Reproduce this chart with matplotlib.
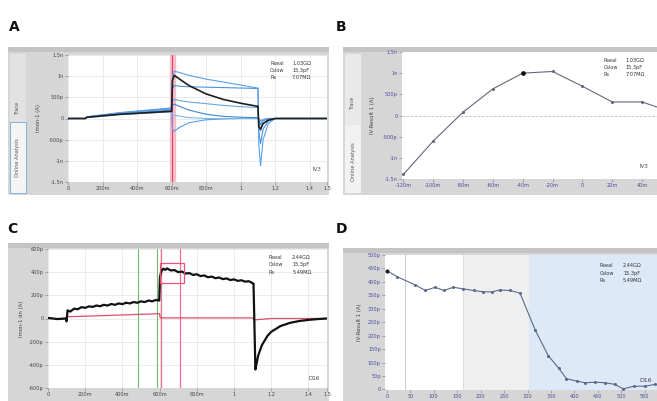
import matplotlib
matplotlib.use("Agg")
import matplotlib.pyplot as plt
from matplotlib.patches import Rectangle

W, H = 657, 401

# ---------------- data ----------------
# Panel A: current traces (time in s, current in nA)
t_A = [0, 0.1, 0.11, 0.3, 0.6, 0.605, 0.615, 0.65, 0.7, 0.8, 0.9, 1.0, 1.095, 1.1, 1.105, 1.115, 1.13, 1.16, 1.2, 1.5]
black_A = [0, 0, 0.03, 0.1, 0.17, 0.9, 1.02, 0.92, 0.78, 0.58, 0.45, 0.36, 0.29, 0.29, -0.2, -0.25, -0.12, -0.04, 0, 0]
blue1_A = [0, 0, 0.04, 0.14, 0.25, 1.0, 1.12, 1.08, 1.02, 0.93, 0.86, 0.79, 0.72, 0.72, -0.6, -1.12, -0.5, -0.12, 0, 0]
blue2_A = [0, 0, 0.04, 0.13, 0.24, 0.7, 0.78, 0.76, 0.75, 0.74, 0.73, 0.72, 0.71, 0.71, -0.3, -0.6, -0.25, -0.06, 0, 0]
blue3_A = [0, 0, 0.03, 0.12, 0.22, 0.4, 0.45, 0.42, 0.39, 0.35, 0.31, 0.28, 0.26, 0.26, -0.1, -0.3, -0.12, -0.03, 0, 0]
blue4_A = [0, 0, 0.03, 0.11, 0.2, 0.3, 0.34, 0.28, 0.2, 0.1, 0.05, 0.03, 0.02, 0.02, -0.05, -0.15, -0.05, -0.01, 0, 0]
blue5_A = [0, 0, 0.03, 0.1, 0.18, 0.05, 0.08, 0.05, 0.02, 0.0, 0, 0, 0, 0, -0.02, -0.08, -0.03, 0, 0, 0]
blue6_A = [0, 0, 0.02, 0.09, 0.16, -0.25, -0.3, -0.2, -0.1, -0.03, -0.01, 0, 0, 0, 0, -0.05, -0.02, 0, 0, 0]
cursor_A = 0.605

# Panel B: IV curve (mV, nA)
v_B = [-120, -100, -80, -60, -40, -20, 0, 20, 40, 60]
i_B = [-1.39, -0.6, 0.08, 0.63, 1.0, 1.04, 0.69, 0.32, 0.32, 0.08]
sel_B = -40

# Panel C: current traces (s, pA)
t_C = [0, 0.05, 0.095, 0.1, 0.105, 0.12, 0.14, 0.16, 0.18, 0.2,
       0.22, 0.24, 0.26, 0.28, 0.3, 0.32, 0.34, 0.36, 0.38, 0.4,
       0.42, 0.44, 0.46, 0.48, 0.5, 0.52, 0.54, 0.56, 0.58, 0.598,
       0.602, 0.61, 0.62, 0.63, 0.64, 0.66, 0.68, 0.7, 0.72, 0.74,
       0.76, 0.78, 0.8, 0.82, 0.84, 0.86, 0.88, 0.9, 0.92, 0.94,
       0.96, 0.98, 1.0, 1.02, 1.04, 1.06, 1.08, 1.1, 1.105, 1.115,
       1.12, 1.13, 1.15, 1.18, 1.2, 1.25, 1.3, 1.35, 1.4, 1.45, 1.5]
black_C = [5, -5, 0, -25, 70, 60, 85, 80, 98, 92,
           105, 100, 112, 106, 118, 112, 125, 118, 130, 124,
           136, 130, 142, 136, 148, 142, 155, 148, 160, 155,
           360, 410, 430, 420, 432, 415, 418, 400, 405, 388,
           392, 376, 382, 366, 372, 356, 362, 348, 354, 340,
           346, 332, 338, 325, 330, 318, 322, 305, 300, -440,
           -400, -320, -230, -150, -115, -65, -38, -22, -12, -5, 0]
t_Cr = [0, 0.1, 0.105, 0.3, 0.6, 0.603, 1.1, 1.11, 1.2, 1.5]
red_C = [0, 0, 15, 25, 42, 5, 5, -12, 0, 0]
green_C = [0.486, 0.585]
pink_C = [0.609, 0.712]
box_C = [0.6, 0.73, 304, 478]

# Panel D: time course (s, pA)
t_D = [0, 21, 60, 82, 103, 121, 142, 163, 185, 206, 224, 241, 263, 284,
       316, 344, 366, 383, 405, 423, 444, 465, 486, 504, 526, 550, 572]
i_D = [442, 420, 389, 368, 380, 368, 380, 374, 368, 363, 363, 370, 368, 358,
       222, 126, 80, 40, 31, 25, 27, 25, 19, 2, 12, 12, 19]
bounds_D = [39, 163, 302]

info_AB = ["Rseal", "Cslow", "Rs"], ["1.03GΩ", "15.3pF", "7.07MΩ"]
info_CD = ["Rseal", "Cslow", "Rs"], ["2.44GΩ", "15.3pF", "5.49MΩ"]

# ---------------- helpers ----------------
fig = plt.figure(figsize=(W / 100, H / 100), dpi=100)
fig.patch.set_facecolor("white")


def box(x0, y0, x1, y1):
    return [x0 / W, 1 - y1 / H, (x1 - x0) / W, (y1 - y0) / H]


def frect(x0, y0, x1, y1, fc, ec="none", lw=0.0, z=0):
    fig.patches.append(Rectangle((x0 / W, 1 - y1 / H), (x1 - x0) / W, (y1 - y0) / H,
                                 transform=fig.transFigure, facecolor=fc,
                                 edgecolor=ec, linewidth=lw, zorder=z))


def ftext(x, y, s, **kw):
    fig.text(x / W, 1 - y / H, s, zorder=20, **kw)


def style(ax, tickcol):
    ax.set_zorder(10)
    ax.set_facecolor("white")
    for s in ax.spines.values():
        s.set_visible(False)
    ax.tick_params(axis="both", labelsize=3.6, length=2, width=0.4, pad=1,
                   colors="#777777", labelcolor=tickcol)


def info(ax, names, vals, x, y):
    for k, (n, v) in enumerate(zip(names, vals)):
        ax.text(x, y - k * 0.055, n, transform=ax.transAxes, fontsize=3.6, color="#333333", va="top", zorder=6)
        ax.text(x + 0.085, y - k * 0.055, v, transform=ax.transAxes, fontsize=3.6, color="#333333", va="top", zorder=6)


FRAME = "#d6d6d6"
TOP = "#c4c4c4"

# ---------------- Panel A ----------------
frect(8, 47, 329, 195, FRAME)
frect(8, 47, 329, 52, TOP, z=1)
frect(10, 54, 26, 122, "#e2e2e2", z=1)
frect(10, 122, 26, 193, "#f4f4f4", ec="#7fb2e5", lw=0.7, z=1)
ftext(18, 108, "Trace", rotation=90, fontsize=3.6, color="#555555", ha="center", va="center")
ftext(18, 158, "Online Analysis", rotation=90, fontsize=3.6, color="#555555", ha="center", va="center")

axA = fig.add_axes(box(68, 55, 327, 182))
style(axA, "#444444")
axA.set_xlim(0, 1.5)
axA.set_ylim(-1.5, 1.5)
xtA = [0, 0.2, 0.4, 0.6, 0.8, 1.0, 1.2, 1.4, 1.5]
axA.set_xticks(xtA)
axA.set_xticklabels(["0", "200m", "400m", "600m", "800m", "1", "1.2", "1.4", "1.5"])
ytA = [-1.5, -1, -0.5, 0, 0.5, 1, 1.5]
axA.set_yticks(ytA)
axA.set_yticklabels(["-1.5n", "-1n", "-500p", "0", "500p", "1n", "1.5n"])
axA.grid(True, color="#e4e4e4", linewidth=0.5)
axA.set_axisbelow(True)
axA.set_ylabel("Imon-1 (A)", fontsize=3.8, color="#444444", labelpad=6)
axA.axvspan(cursor_A - 0.012, cursor_A + 0.012, color="#f6b3c0", alpha=0.8, zorder=1)
axA.axvline(cursor_A, color="#e0405c", linewidth=0.8, zorder=2)
blues = [blue6_A, blue5_A, blue4_A, blue3_A, blue2_A, blue1_A]
bcols = ["#5b9ee0", "#7fb5ea", "#3f86d4", "#6aa8e4", "#4a92dc", "#5aa0e6"]
for tr, c in zip(blues, bcols):
    axA.plot(t_A, tr, color=c, linewidth=0.8, zorder=3)
axA.plot(t_A, black_A, color="#1e1e1e", linewidth=1.2, zorder=4)
info(axA, *info_AB, 0.78, 0.95)
axA.text(0.945, 0.09, "IV3", transform=axA.transAxes, fontsize=4, color="#444444")

# ---------------- Panel B ----------------
frect(343, 47, 657, 195, FRAME)
frect(343, 47, 657, 52, TOP, z=1)
frect(345, 54, 361, 125, "#e9e9e9", z=1)
frect(345, 125, 361, 193, "#f2f2f2", z=1)
ftext(353, 103, "Trace", rotation=90, fontsize=3.6, color="#555555", ha="center", va="center")
ftext(353, 162, "Online Analysis", rotation=90, fontsize=3.6, color="#555555", ha="center", va="center")

axB = fig.add_axes(box(402, 52, 657, 179))
style(axB, "#4a4aa0")
axB.set_xlim(-121, 50)
axB.set_ylim(-1.5, 1.5)
axB.set_xticks([-120, -100, -80, -60, -40, -20, 0, 20, 40])
axB.set_xticklabels(["-120m", "-100m", "-80m", "-60m", "-40m", "-20m", "0", "20m", "40m"])
axB.set_yticks(ytA)
axB.set_yticklabels(["-1.5n", "-1n", "-500p", "0", "500p", "1n", "1.5n"])
axB.axhline(0, color="#bbbbbb", linewidth=0.6, linestyle=(0, (3, 2)))
axB.set_ylabel("IV-Result 1 (A)", fontsize=3.8, color="#444444", labelpad=6)
axB.plot(v_B, i_B, color="#666677", linewidth=0.8, marker="o", markersize=1.2, zorder=3)
axB.plot([sel_B], [i_B[v_B.index(sel_B)]], "o", color="#111111", markersize=2.4, zorder=4)
info(axB, *info_AB, 0.79, 0.95)
axB.text(0.93, 0.09, "IV3", transform=axB.transAxes, fontsize=4, color="#444444")

# ---------------- Panel C ----------------
frect(8, 243, 329, 401, FRAME)
frect(8, 243, 329, 248, TOP, z=1)
axC = fig.add_axes(box(48, 249, 327, 388))
style(axC, "#444444")
axC.set_xlim(0, 1.5)
axC.set_ylim(-600, 600)
axC.set_xticks(xtA)
axC.set_xticklabels(["0", "200m", "400m", "600m", "800m", "1", "1.2", "1.4", "1.5"])
axC.set_yticks([-600, -400, -200, 0, 200, 400, 600])
axC.set_yticklabels(["-600p", "-400p", "-200p", "0", "200p", "400p", "600p"])
axC.grid(True, color="#e4e4e4", linewidth=0.5)
axC.set_axisbelow(True)
axC.set_ylabel("Imon-1 dn (A)", fontsize=3.8, color="#444444", labelpad=4)
for g in green_C:
    axC.axvline(g, color="#6cc06c", linewidth=0.8, zorder=2)
for p in pink_C:
    axC.axvline(p, color="#ee6f8f", linewidth=0.9, zorder=2)
axC.add_patch(Rectangle((box_C[0], box_C[2]), box_C[1] - box_C[0], box_C[3] - box_C[2],
                        fill=False, edgecolor="#e8537a", linewidth=0.9, zorder=5))
axC.plot(t_Cr, red_C, color="#d9506e", linewidth=0.9, zorder=3)
axC.plot(t_C, black_C, color="#111111", linewidth=1.6, zorder=4)
info(axC, *info_CD, 0.79, 0.96)
axC.text(0.935, 0.06, "D16", transform=axC.transAxes, fontsize=4, color="#444444")

# ---------------- Panel D ----------------
frect(343, 248, 657, 401, FRAME)
frect(343, 248, 657, 253, TOP, z=1)
axD = fig.add_axes(box(385, 255, 657, 390))
style(axD, "#4a4aa0")
axD.set_xlim(-4, 576)
axD.set_ylim(-2, 500)
axD.axvspan(bounds_D[1], bounds_D[2], color="#efefef", zorder=0)
axD.axvspan(bounds_D[2], 576, color="#dde9f7", zorder=0)
axD.axvline(bounds_D[0], color="#c8c8c8", linewidth=0.7, zorder=1)
axD.axvline(bounds_D[1], color="#d8d8d8", linewidth=0.5, zorder=1)
axD.set_xticks([0, 50, 100, 150, 200, 250, 300, 350, 400, 450, 500, 550])
axD.set_xticklabels(["0", "50", "100", "150", "200", "250", "300", "350", "400", "450", "500", "550"])
ytD = [0, 50, 100, 150, 200, 250, 300, 350, 400, 450, 500]
axD.set_yticks(ytD)
axD.set_yticklabels(["0", "50p", "100p", "150p", "200p", "250p", "300p", "350p", "400p", "450p", "500p"])
axD.set_ylabel("IV-Result 1 (A)", fontsize=3.8, color="#444444", labelpad=4)
axD.plot(t_D, i_D, color="#5a6a8a", linewidth=0.8, marker="o", markersize=1.2, zorder=3)
axD.plot([t_D[0]], [i_D[0]], "o", color="#222222", markersize=2, zorder=4)
info(axD, *info_CD, 0.79, 0.94)
axD.text(0.935, 0.06, "D16", transform=axD.transAxes, fontsize=4.5, color="#444444")

# ---------------- panel letters ----------------
for (x, y, s) in [(9, 31, "A"), (336, 31, "B"), (7, 233, "C"), (336, 233, "D")]:
    ftext(x, y, s, fontsize=10, fontweight="bold", color="#111111", ha="left", va="baseline")

fig.savefig("out.png", dpi=100)
